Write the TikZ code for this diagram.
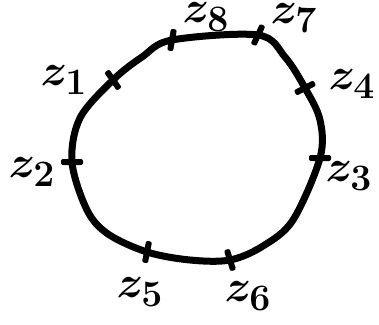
\documentclass[tikz,border=0pt]{standalone}
\usepackage{amsmath,bm}
\begin{document}
\begin{tikzpicture}[x=1pt,y=-1pt,
  ring/.style={line width=7pt,line join=round},
  tickbar/.style={fill=black,rectangle,minimum width=22pt,minimum height=6pt,inner sep=0pt,rounded corners=2pt},
  zlab/.style={font=\Huge\boldmath,inner sep=0.5pt,scale=1.8,transform shape}]
\useasboundingbox (0,0) rectangle (379,324);
\coordinate (v8) at (172,40);
\coordinate (v7) at (258,35);
\coordinate (v4) at (305,88);
\coordinate (v3) at (320,158);
\coordinate (v6) at (230,260);
\coordinate (v5) at (147,252);
\coordinate (v2) at (72,162);
\coordinate (v1) at (113,80);
\coordinate (m74) at (285,57);
\coordinate (m43) at (320,120);
\coordinate (m36) at (293,220);
\coordinate (m6b) at (263,246);
\coordinate (m65) at (190,260);
\coordinate (m52) at (108,234);
\coordinate (m5b) at (87,210);
\coordinate (m21) at (80,118);
\coordinate (m18) at (142,57);
\draw[ring] plot[smooth cycle,tension=0.55] coordinates {(v8) (v7) (m74) (v4) (m43) (v3) (m36) (m6b) (v6) (m65) (v5) (m52) (m5b) (v2) (m21) (v1) (m18)};
\node[tickbar,rotate=80] (t8) at (v8) {};
\node[tickbar,rotate=65] (t7) at (v7) {};
\node[tickbar,rotate=27] (t4) at (v4) {};
\node[tickbar,rotate=0] (t3) at (v3) {};
\node[tickbar,rotate=107] (t6) at (v6) {};
\node[tickbar,rotate=79] (t5) at (v5) {};
\node[tickbar,rotate=0] (t2) at (v2) {};
\node[tickbar,rotate=125] (t1) at (v1) {};
\node[zlab] (l8) at (206,17) {$z_8$};
\node[zlab] (l7) at (294,18) {$z_7$};
\node[zlab] (l4) at (352,84) {$z_4$};
\node[zlab] (l3) at (349,176) {$z_3$};
\node[zlab] (l6) at (248,296) {$z_6$};
\node[zlab] (l5) at (140,292) {$z_5$};
\node[zlab] (l2) at (32,172) {$z_2$};
\node[zlab] (l1) at (64,80) {$z_1$};
\end{tikzpicture}
\end{document}
